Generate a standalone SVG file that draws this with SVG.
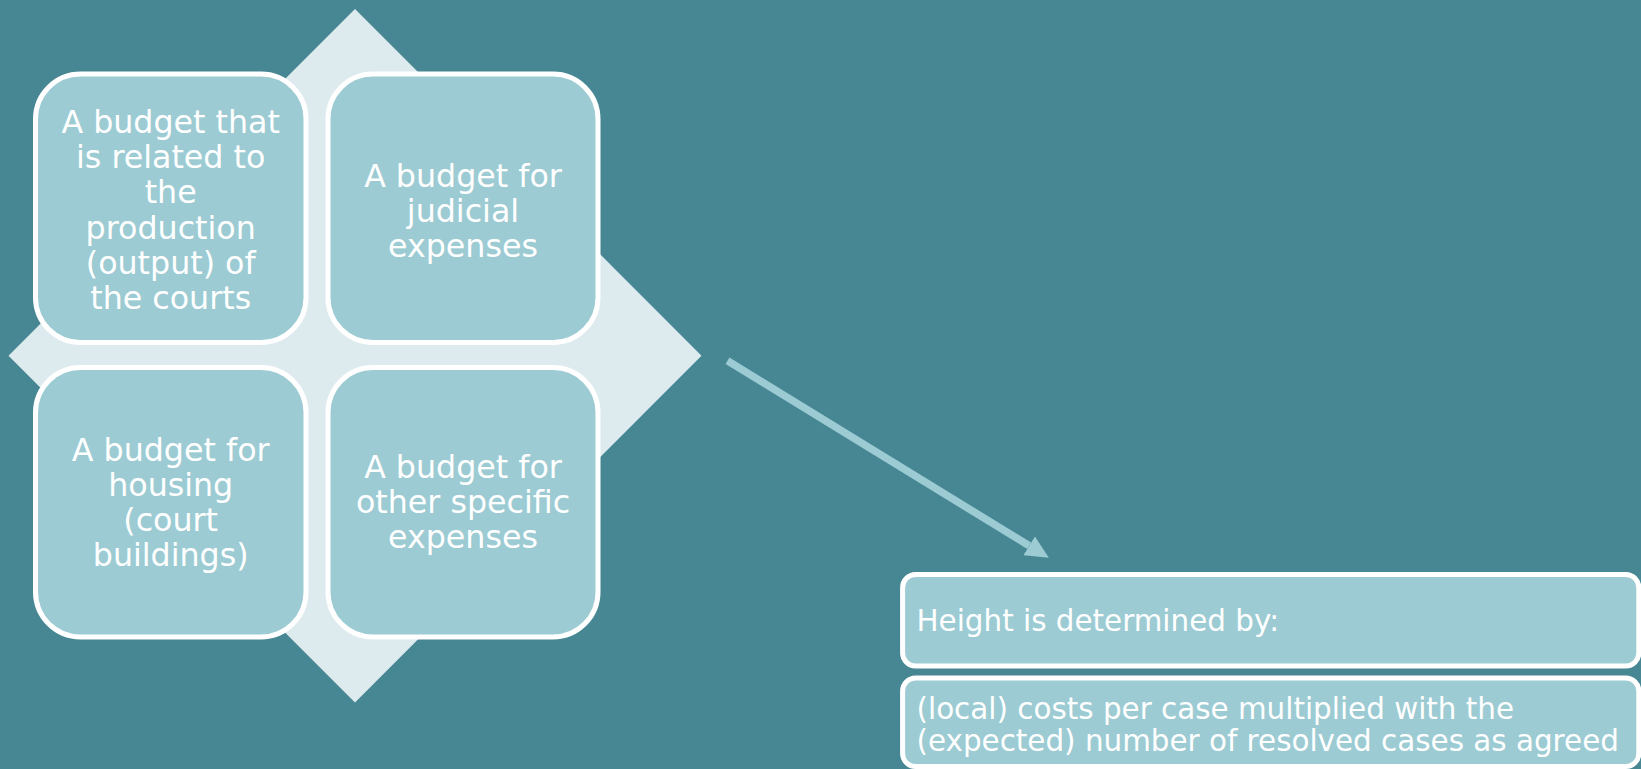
<svg xmlns="http://www.w3.org/2000/svg" width="1641" height="769" viewBox="0 0 1641 769">
<style>
.bg{fill:#468793}
.dia{fill:#deebee}
.box{fill:#9ccbd3;stroke:#ffffff;stroke-width:5}
.t{font-family:"DejaVu Sans",Verdana,sans-serif;font-size:31.7px;fill:#ffffff;text-anchor:middle}
.t2{font-family:"DejaVu Sans",Verdana,sans-serif;font-size:29.4px;fill:#ffffff}
.conn{stroke:#9ccbd3;stroke-width:7.5;fill:none}
</style>
<defs>
<marker id="ah" markerUnits="userSpaceOnUse" markerWidth="24" markerHeight="22" refX="0" refY="11" orient="auto">
<path d="M0,0 L23,11 L0,22 Z" fill="#9ccbd3"/>
</marker>
</defs>
<rect class="bg" x="0" y="0" width="1641" height="769"/>
<g id="diamond">
<polygon class="dia" points="355,9 701.5,355.7 355,702.5 8.5,355.7"/>
</g>
<g id="node1">
<rect class="box" x="35.5" y="74" width="270.5" height="268.5" rx="45" ry="45"/>
<text class="t" x="170.7" y="133">A budget that</text>
<text class="t" x="170.7" y="168.2">is related to</text>
<text class="t" x="170.7" y="203.4">the</text>
<text class="t" x="170.7" y="238.6">production</text>
<text class="t" x="170.7" y="273.8">(output) of</text>
<text class="t" x="170.7" y="309">the courts</text>
</g>
<g id="node2">
<rect class="box" x="328" y="74" width="270" height="268.5" rx="45" ry="45"/>
<text class="t" x="463" y="186.5">A budget for</text>
<text class="t" x="463" y="221.5">judicial</text>
<text class="t" x="463" y="256.5">expenses</text>
</g>
<g id="node3">
<rect class="box" x="35.5" y="367.5" width="270.5" height="269.5" rx="45" ry="45"/>
<text class="t" x="170.7" y="461">A budget for</text>
<text class="t" x="170.7" y="496">housing</text>
<text class="t" x="170.7" y="531">(court</text>
<text class="t" x="170.7" y="566">buildings)</text>
</g>
<g id="node4">
<rect class="box" x="328" y="367.5" width="270" height="269.5" rx="45" ry="45"/>
<text class="t" x="463" y="477.5">A budget for</text>
<text class="t" x="463" y="512.7">other specific</text>
<text class="t" x="463" y="547.5">expenses</text>
</g>
<g id="connectors">
<line class="conn" x1="727.5" y1="360.8" x2="1029.2" y2="545.8" marker-end="url(#ah)"/>
</g>
<g id="node5">
<rect class="box" x="902.6" y="574.5" width="736.2" height="91.5" rx="13" ry="13"/>
<text class="t2" x="916.5" y="631">Height is determined by:</text>
</g>
<g id="node6">
<rect class="box" x="902.6" y="678" width="736.2" height="88.5" rx="13" ry="13"/>
<text class="t2" x="916.5" y="719">(local) costs per case multiplied with the</text>
<text class="t2" x="916.5" y="750.5">(expected) number of resolved cases as agreed</text>
</g>
</svg>
